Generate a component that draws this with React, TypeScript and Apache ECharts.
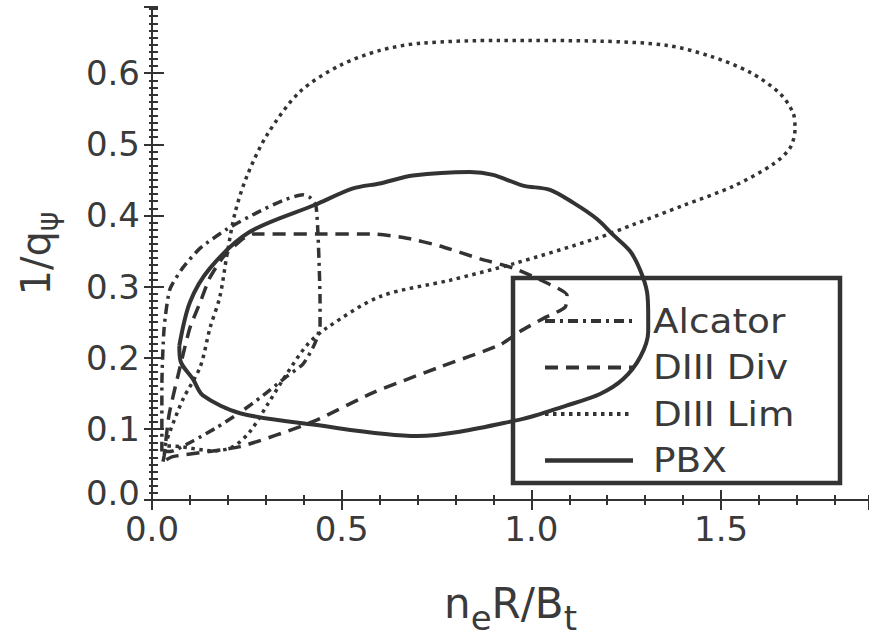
import React, { useEffect, useRef } from 'react';
import * as echarts from 'echarts';

const X_MAX = 1.89;
const Y_MAX = 0.693;
const FONT = 'DejaVu Sans';
const INK = '#333333';
const TEXT = '#3a3a3a';

const legendNames = ['Alcator', 'DIII Div', 'DIII Lim', 'PBX'];

const alcator: [number, number][] = [
  [0.026, 0.068], [0.026, 0.16], [0.032, 0.242], [0.047, 0.296], [0.082, 0.327],
  [0.127, 0.354], [0.198, 0.381], [0.277, 0.404], [0.345, 0.421], [0.398, 0.429],
  [0.417, 0.425], [0.432, 0.414], [0.438, 0.368], [0.443, 0.278], [0.443, 0.246],
  [0.435, 0.228], [0.424, 0.214], [0.398, 0.191], [0.356, 0.174], [0.293, 0.147],
  [0.232, 0.123], [0.171, 0.102], [0.108, 0.083], [0.047, 0.068], [0.026, 0.068],
];

const diiiDiv: [number, number][] = [
  [0.029, 0.054], [0.032, 0.062], [0.045, 0.12], [0.074, 0.187], [0.1, 0.242],
  [0.127, 0.278], [0.153, 0.313], [0.187, 0.341], [0.232, 0.364], [0.266, 0.374],
  [0.435, 0.374], [0.583, 0.374], [0.672, 0.368], [0.759, 0.357], [0.865, 0.339],
  [0.952, 0.326], [1.041, 0.305], [1.094, 0.288], [1.089, 0.271], [1.031, 0.255],
  [0.97, 0.237], [0.917, 0.218], [0.759, 0.187], [0.583, 0.151], [0.424, 0.11],
  [0.232, 0.075], [0.055, 0.061], [0.029, 0.054],
];

const diiiLim: [number, number][] = [
  [0.034, 0.076], [0.047, 0.096], [0.082, 0.142], [0.127, 0.187], [0.153, 0.242],
  [0.179, 0.286], [0.198, 0.346], [0.219, 0.404], [0.25, 0.455], [0.303, 0.513],
  [0.39, 0.574], [0.496, 0.611], [0.601, 0.632], [0.707, 0.642], [0.917, 0.646],
  [1.181, 0.645], [1.358, 0.639], [1.471, 0.624], [1.577, 0.601], [1.656, 0.571],
  [1.69, 0.544], [1.695, 0.522], [1.682, 0.495], [1.637, 0.472], [1.532, 0.441],
  [1.4, 0.414], [1.268, 0.387], [1.173, 0.368], [0.952, 0.332], [0.786, 0.309],
  [0.601, 0.286], [0.461, 0.242], [0.409, 0.218], [0.356, 0.178], [0.303, 0.133],
  [0.258, 0.096], [0.214, 0.075], [0.161, 0.069], [0.074, 0.075], [0.034, 0.076],
];

const pbx: [number, number][] = [
  [0.072, 0.217], [0.1, 0.278], [0.153, 0.326], [0.258, 0.377], [0.43, 0.415],
  [0.53, 0.438], [0.601, 0.445], [0.688, 0.456], [0.838, 0.461], [0.899, 0.457],
  [0.978, 0.442], [1.049, 0.436], [1.11, 0.418], [1.173, 0.395], [1.215, 0.373],
  [1.26, 0.35], [1.287, 0.323], [1.305, 0.292], [1.308, 0.259], [1.308, 0.237],
  [1.287, 0.201], [1.242, 0.17], [1.181, 0.149], [1.094, 0.133], [0.97, 0.113],
  [0.699, 0.09], [0.424, 0.106], [0.232, 0.122], [0.134, 0.147], [0.108, 0.17],
  [0.076, 0.194], [0.072, 0.217],
];

const dashAlcator = [10, 5, 3, 5];
const dashDiv = [13, 8];
const dashLim = [3.5, 4.5];

export default function App() {
  const ref = useRef<HTMLDivElement>(null);

  useEffect(() => {
    if (!ref.current) return;
    const chart = echarts.init(ref.current, undefined, { renderer: 'svg' });

    const tickStyle = { color: INK, width: 2 };
    const noSplit = { show: false };

    const xBase = {
      type: 'value' as const,
      min: 0,
      max: X_MAX,
      splitLine: noSplit,
    };
    const yBase = {
      type: 'value' as const,
      min: 0,
      max: Y_MAX,
      splitLine: noSplit,
    };

    const option: any = {
      animation: false,
      backgroundColor: '#ffffff',
      grid: { left: 152, top: 7, right: 0, bottom: 122, containLabel: false },
      xAxis: [
        {
          ...xBase,
          position: 'bottom',
          interval: 0.5,
          axisLine: { show: true, lineStyle: { color: INK, width: 2 } },
          axisTick: { inside: true, length: 10, lineStyle: tickStyle },
          axisLabel: {
            showMaxLabel: false,
            formatter: (v: number) => v.toFixed(1),
            fontSize: 34,
            fontFamily: FONT,
            color: TEXT,
            margin: 12,
          },
          name: 'n{sub|e}R/B{sub|t}',
          nameLocation: 'middle',
          nameGap: 71,
          nameTextStyle: {
            fontSize: 42,
            fontFamily: FONT,
            color: TEXT,
            rich: { sub: { fontSize: 34, fontFamily: FONT, color: TEXT, padding: [30, 0, 0, 0] } },
          },
        },
        {
          ...xBase,
          position: 'bottom',
          interval: 0.1,
          axisLine: { show: false },
          axisTick: { inside: true, length: 5, lineStyle: tickStyle },
          axisLabel: { show: false },
        },
        {
          ...xBase,
          position: 'top',
          interval: 0.5,
          axisLine: { show: true, lineStyle: { color: INK, width: 2 } },
          axisTick: { inside: true, length: 10, lineStyle: tickStyle },
          axisLabel: { show: false },
        },
        {
          ...xBase,
          position: 'top',
          interval: 0.1,
          axisLine: { show: false },
          axisTick: { inside: true, length: 5, lineStyle: tickStyle },
          axisLabel: { show: false },
        },
      ],
      yAxis: [
        {
          ...yBase,
          position: 'left',
          interval: 0.1,
          axisLine: { show: true, lineStyle: { color: INK, width: 2 } },
          axisTick: { inside: true, length: 12, lineStyle: tickStyle },
          axisLabel: {
            showMaxLabel: false,
            formatter: (v: number) => (v === 0 ? '{lo|0.0}' : v.toFixed(1)),
            fontSize: 34,
            fontFamily: FONT,
            color: TEXT,
            margin: 12,
            rich: { lo: { fontSize: 34, fontFamily: FONT, color: TEXT, padding: [0, 0, 14, 0] } },
          },
          name: '1/q{sub|ψ}',
          nameLocation: 'middle',
          nameGap: 90,
          nameTextStyle: {
            fontSize: 40,
            fontFamily: FONT,
            color: TEXT,
            rich: { sub: { fontSize: 30, fontFamily: FONT, color: TEXT, padding: [22, 0, 0, 0] } },
          },
        },
        {
          ...yBase,
          position: 'left',
          interval: 0.01,
          axisLine: { show: false },
          axisTick: { inside: true, length: 6, lineStyle: tickStyle },
          axisLabel: { show: false },
        },
        {
          ...yBase,
          position: 'right',
          interval: 0.1,
          axisLine: { show: false },
          axisTick: { inside: true, length: 8, lineStyle: tickStyle },
          axisLabel: { show: false },
        },
        {
          ...yBase,
          position: 'right',
          interval: 0.01,
          axisLine: { show: false },
          axisTick: { inside: true, length: 3, lineStyle: tickStyle },
          axisLabel: { show: false },
        },
      ],
      series: [
        {
          name: legendNames[0],
          type: 'line',
          data: alcator,
          xAxisIndex: 0,
          yAxisIndex: 0,
          symbol: 'none',
          smooth: 0.2,
          lineStyle: { color: INK, width: 3.5, type: dashAlcator },
        },
        {
          name: legendNames[1],
          type: 'line',
          data: diiiDiv,
          xAxisIndex: 0,
          yAxisIndex: 0,
          symbol: 'none',
          smooth: 0.2,
          lineStyle: { color: INK, width: 3.5, type: dashDiv },
        },
        {
          name: legendNames[2],
          type: 'line',
          data: diiiLim,
          xAxisIndex: 0,
          yAxisIndex: 0,
          symbol: 'none',
          smooth: 0.3,
          lineStyle: { color: INK, width: 3.5, type: dashLim },
        },
        {
          name: legendNames[3],
          type: 'line',
          data: pbx,
          xAxisIndex: 0,
          yAxisIndex: 0,
          symbol: 'none',
          smooth: 0.3,
          lineStyle: { color: INK, width: 4, type: 'solid' },
        },
      ],
      graphic: [
        {
          type: 'rect',
          z: 100,
          shape: { x: 513, y: 278, width: 327, height: 205 },
          style: { fill: 'transparent', stroke: INK, lineWidth: 4.5 },
        },
        ...[dashAlcator, dashDiv, dashLim, null].map((d, i) => ({
          type: 'line',
          z: 100,
          shape: { x1: 545, y1: 321 + i * 46.5, x2: 633, y2: 321 + i * 46.5 },
          style: {
            stroke: INK,
            lineWidth: i === 3 ? 4.5 : 4,
            lineDash: d || undefined,
          },
        })),
        ...legendNames.map((n, i) => ({
          type: 'text',
          z: 100,
          x: 653,
          y: 321 + i * 46.5,
          scaleX: 1.1,
          style: {
            text: n,
            fontSize: 34,
            fontFamily: FONT,
            fill: TEXT,
            verticalAlign: 'middle',
            align: 'left',
          },
        })),
      ],
    };

    chart.setOption(option);
    return () => chart.dispose();
  }, []);

  return <div ref={ref} style={{ width: 869, height: 640, position: 'absolute', left: 0, top: 0 }} />;
}
